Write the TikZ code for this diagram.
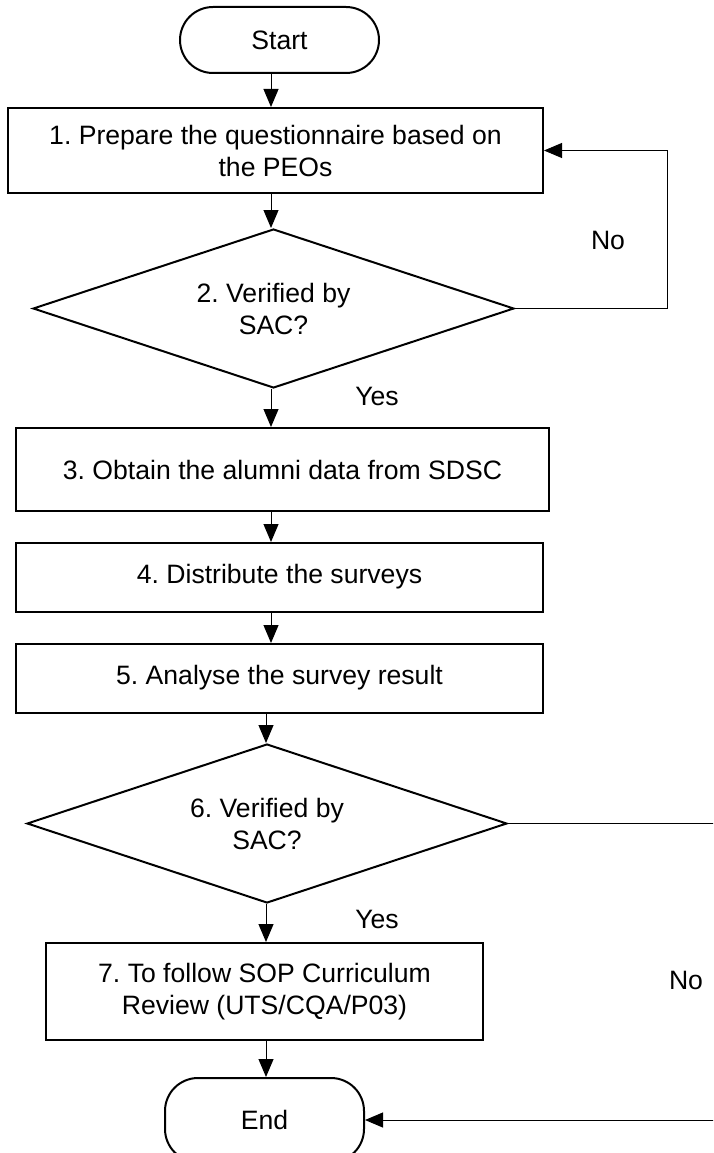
\documentclass[tikz,border=0pt]{standalone}
\usepackage{fontspec}
\setmainfont{Liberation Sans}
\usetikzlibrary{arrows.meta,shapes.geometric}
\newcommand\flowfont{\fontsize{26.6}{32}\selectfont}
\frenchspacing
\begin{document}
\begin{tikzpicture}[x=1pt,y=-1pt,
  every node/.style={font=\flowfont},
  stepbox/.style={draw, line width=2pt, rectangle, align=center, inner sep=4pt},
  term/.style={draw, line width=2pt, rectangle, rounded corners=33pt, minimum width=199pt, inner sep=0pt},
  decision/.style={draw, line width=2pt, diamond, aspect=3, inner sep=0pt, align=center, minimum width=481pt, minimum height=159pt},
  conn/.style={line width=1pt},
  arr/.style={conn, -{Triangle[length=18pt,width=15pt]}},
  lbl/.style={inner sep=0pt}]
\path[use as bounding box] (0,0) rectangle (713,1153);
\clip (0,0) rectangle (713,1153);

\coordinate (c1) at (271,0);
\coordinate (c2) at (266,0);
\coordinate (loop) at (667,0);
\coordinate (off) at (760,0);

\node[term, minimum height=66pt] (start) at (279.5,40) {Start};
\node[stepbox, minimum width=535pt, minimum height=85pt] (b1) at (275.5,150.5) {1. Prepare the questionnaire based on\\the PEOs};
\node[decision] (d2) at (273.5,308.5) {2. Verified by\\SAC?};
\node[stepbox, minimum width=533pt, minimum height=83pt] (b3) at (282.5,469.5) {3. Obtain the alumni data from SDSC};
\node[stepbox, minimum width=527pt, minimum height=69pt] (b4) at (279.5,577.5) {\raisebox{7pt}{4. Distribute the surveys}};
\node[stepbox, minimum width=527pt, minimum height=69pt] (b5) at (279.5,678.5) {\raisebox{8pt}{5. Analyse the survey result}};
\node[decision, minimum width=480pt] (d6) at (267,823.5) {6. Verified by\\SAC?};
\node[stepbox, minimum width=437pt, minimum height=97pt] (b7) at (264.5,991.5) {7. To follow SOP Curriculum\\Review (UTS/CQA/P03)};
\node[term, minimum height=84pt] (end) at (264.5,1120) {End};

\node[lbl] (no1) at (608,240) {No};
\node[lbl] (yes1) at (377,396) {Yes};
\node[lbl] (yes2) at (377,919) {Yes};
\node[lbl] (no2) at (686,980) {No};

\draw[arr] (start.south -| c1) -- (b1.north -| c1);
\draw[arr] (b1.south -| c1) -- (d2.north -| c1);
\draw[arr] (d2.south -| c1) -- (b3.north -| c1);
\draw[arr] (b3.south -| c1) -- (b4.north -| c1);
\draw[arr] (b4.south -| c1) -- (b5.north -| c1);
\draw[arr] (b5.south -| c2) -- (d6.north -| c2);
\draw[arr] (d6.south -| c2) -- (b7.north -| c2);
\draw[arr] (b7.south -| c2) -- (end.north -| c2);
\draw[arr] (d2.east) -- (d2.east -| loop) |- (b1.east);
\draw[arr] (d6.east) -- (d6.east -| off) |- (end.east);
\end{tikzpicture}
\end{document}
